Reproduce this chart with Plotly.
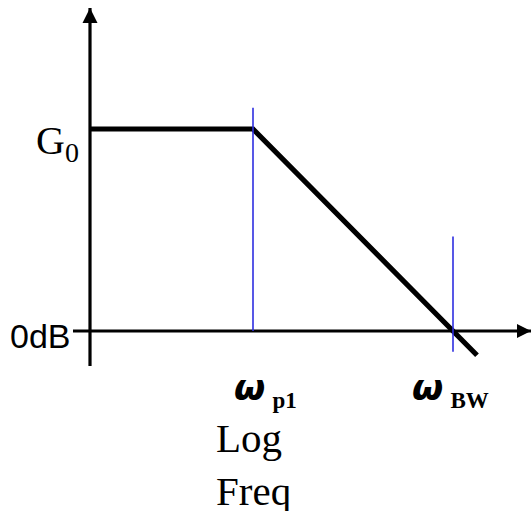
import plotly.graph_objects as go

# Asymptotic Bode magnitude plot of a single-pole amplifier.
# x: log10(frequency) in decades from the sketch origin, y: gain in dB.
G0_DB = 40.0            # low-frequency gain
LOG_W_P1 = 1.63         # dominant pole
LOG_W_BW = 3.63         # unity-gain (0 dB) crossing

# piecewise-linear magnitude asymptote
resp_x = [0.0, 1.63, 3.87]
resp_y = [40.0, 40.0, -4.8]

# extent (dB) of the thin markers drawn at the two characteristic frequencies
p1_marker_db = [0.0, 44.2]
bw_marker_db = [-4.1, 18.7]

# hand-drawn axes (origin at x=0, 0 dB)
x_axis_span = [-0.17, 4.41]
y_axis_span = [-6.93, 63.96]

X_RANGE = [-0.90, 4.42]
Y_RANGE = [-35.64, 65.54]

SERIF = "Liberation Serif, Times New Roman, serif"
SANS = "Liberation Sans, Arial, sans-serif"
GREEK = "DejaVu Sans, sans-serif"
BLACK = "#000000"
BLUE = "#2e2ee0"

fig = go.Figure()

# axes
fig.add_trace(go.Scatter(x=[0, 0], y=y_axis_span, mode="lines",
                         line=dict(color=BLACK, width=3.2), hoverinfo="skip"))
fig.add_trace(go.Scatter(x=x_axis_span, y=[0, 0], mode="lines",
                         line=dict(color=BLACK, width=3.2), hoverinfo="skip"))
# arrow heads at the axis ends
fig.add_trace(go.Scatter(x=[0], y=[y_axis_span[1]], mode="markers",
                         marker=dict(symbol="arrow-up", size=15, color=BLACK,
                                     line=dict(width=0)),
                         cliponaxis=False, hoverinfo="skip"))
fig.add_trace(go.Scatter(x=[x_axis_span[1]], y=[0], mode="markers",
                         marker=dict(symbol="arrow-right", size=14, color=BLACK,
                                     line=dict(width=0)),
                         cliponaxis=False, hoverinfo="skip"))

# magnitude asymptote
fig.add_trace(go.Scatter(x=resp_x, y=resp_y, mode="lines",
                         line=dict(color=BLACK, width=5.2), hoverinfo="skip"))

# pole and bandwidth markers
fig.add_trace(go.Scatter(x=[LOG_W_P1, LOG_W_P1], y=p1_marker_db, mode="lines",
                         line=dict(color=BLUE, width=1.6), hoverinfo="skip"))
fig.add_trace(go.Scatter(x=[LOG_W_BW, LOG_W_BW], y=bw_marker_db, mode="lines",
                         line=dict(color=BLUE, width=1.6), hoverinfo="skip"))


def omega_label(sub):
    return ("<b><i>ω</i></b>\u2009<sub><b><span style='font-family:Liberation Serif;"
            "font-size:23px'>" + sub + "</span></b></sub>")


annotations = [
    dict(x=-0.09, y=G0_DB, text="G<sub>0</sub>", xanchor="right", yanchor="middle",
         yshift=-14, font=dict(family=SERIF, size=40, color=BLACK)),
    dict(x=x_axis_span[0], y=0, text="0dB", xanchor="right", yanchor="middle",
         yshift=-5, font=dict(family=SANS, size=34, color=BLACK)),
    dict(x=1.755, y=-6.8, text=omega_label("p1"), xanchor="center",
         yanchor="top", font=dict(family=GREEK, size=36, color=BLACK)),
    dict(x=3.60, y=-6.8, text=omega_label("BW"), xanchor="center",
         yanchor="top", font=dict(family=GREEK, size=36, color=BLACK)),
    dict(x=1.24, y=-16.2, text="Log<br>Freq", xanchor="left", yanchor="top",
         align="left", font=dict(family=SERIF, size=41, color=BLACK)),
]
for a in annotations:
    a.update(xref="x", yref="y", showarrow=False)

fig.update_layout(
    width=532, height=511,
    margin=dict(l=0, r=0, t=0, b=0),
    paper_bgcolor="white", plot_bgcolor="white",
    showlegend=False,
    xaxis=dict(range=X_RANGE, visible=False, fixedrange=True),
    yaxis=dict(range=Y_RANGE, visible=False, fixedrange=True),
    annotations=annotations,
)

fig.write_html("out.html")
